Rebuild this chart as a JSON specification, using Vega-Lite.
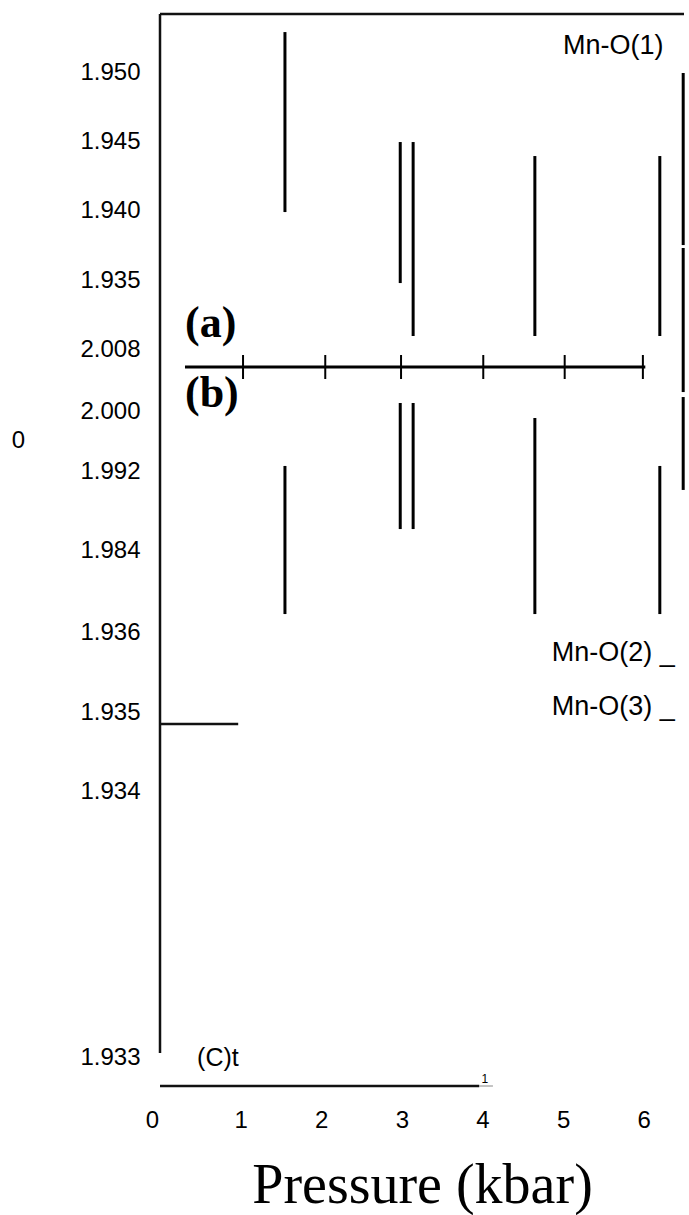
{
  "$schema": "https://vega.github.io/schema/vega-lite/v6.json",
  "width": 524,
  "height": 1072,
  "autosize": "none",
  "padding": {"left": 160, "top": 14, "right": 5, "bottom": 129},
  "background": "white",
  "config": {"view": {"stroke": null}, "axis": {"grid": false}},
  "data": {"values": [
    {"kind": "bar", "p1": 1.55, "p2": 1.55, "v1": 1.95288, "v2": 1.93990},
    {"kind": "bar", "p1": 2.98, "p2": 2.98, "v1": 1.94495, "v2": 1.93478},
    {"kind": "bar", "p1": 3.14, "p2": 3.14, "v1": 1.94495, "v2": 1.93096},
    {"kind": "bar", "p1": 4.65, "p2": 4.65, "v1": 1.94394, "v2": 1.93096},
    {"kind": "bar", "p1": 6.20, "p2": 6.20, "v1": 1.94394, "v2": 1.93096},
    {"kind": "bar", "p1": 6.49, "p2": 6.49, "v1": 1.94993, "v2": 1.93752},
    {"kind": "bar", "p1": 6.49, "p2": 6.49, "v1": 1.93731, "v2": 1.92692},
    {"kind": "bar", "p1": 6.49, "p2": 6.49, "v1": 1.92656, "v2": 1.91986},
    {"kind": "bar", "p1": 1.55, "p2": 1.55, "v1": 1.92159, "v2": 1.91091},
    {"kind": "bar", "p1": 2.98, "p2": 2.98, "v1": 1.92613, "v2": 1.91704},
    {"kind": "bar", "p1": 3.14, "p2": 3.14, "v1": 1.92613, "v2": 1.91704},
    {"kind": "bar", "p1": 4.65, "p2": 4.65, "v1": 1.92505, "v2": 1.91091},
    {"kind": "bar", "p1": 6.20, "p2": 6.20, "v1": 1.92159, "v2": 1.91091},
    {"kind": "line", "p1": 0.31, "p2": 6.02, "v1": 1.92873, "v2": 1.92873},
    {"kind": "tick", "p1": 1.03, "p2": 1.03, "v1": 1.92959, "v2": 1.92786},
    {"kind": "tick", "p1": 2.05, "p2": 2.05, "v1": 1.92959, "v2": 1.92786},
    {"kind": "tick", "p1": 2.99, "p2": 2.99, "v1": 1.92959, "v2": 1.92786},
    {"kind": "tick", "p1": 4.01, "p2": 4.01, "v1": 1.92959, "v2": 1.92786},
    {"kind": "tick", "p1": 5.02, "p2": 5.02, "v1": 1.92959, "v2": 1.92786},
    {"kind": "tick", "p1": 5.99, "p2": 5.99, "v1": 1.92959, "v2": 1.92786},
    {"kind": "frame", "p1": 0, "p2": 0, "v1": 1.954183, "v2": 1.87926},
    {"kind": "frame", "p1": 0, "p2": 6.5, "v1": 1.954183, "v2": 1.954183},
    {"kind": "frame", "p1": 0, "p2": 3.96, "v1": 1.876875, "v2": 1.876875},
    {"kind": "frame", "p1": 0, "p2": 0.97, "v1": 1.90298, "v2": 1.90298},
    {"kind": "thin", "p1": 3.96, "p2": 4.13, "v1": 1.876875, "v2": 1.876875},
    {"kind": "mno", "label": "Mn-O(1)", "p1": 5.0, "v1": 1.95188},
    {"kind": "mno", "label": "Mn-O(2) _", "p1": 4.86, "v1": 1.90810},
    {"kind": "mno", "label": "Mn-O(3) _", "p1": 4.86, "v1": 1.90421},
    {"kind": "sans", "label": "(C)t", "p1": 0.46, "v1": 1.87889},
    {"kind": "small", "label": "1", "p1": 4.03, "v1": 1.87738},
    {"kind": "serif", "label": "(a)", "p1": 0.31, "v1": 1.93183},
    {"kind": "serif", "label": "(b)", "p1": 0.31, "v1": 1.92678}
  ]},
  "encoding": {
    "x": {
      "field": "p1", "type": "quantitative",
      "scale": {"domain": [0, 6.5], "nice": false, "zero": false},
      "axis": {
        "values": [0, 1, 2, 3, 4, 5, 6],
        "domain": false, "ticks": false, "tickSize": 0,
        "labelFont": "Liberation Sans", "labelFontSize": 24, "labelColor": "#000",
        "labelPadding": 22, "labelFlush": false,
        "labelOffset": {"condition": {"test": "datum.value === 0", "value": -8}, "value": 0},
        "title": "Pressure (kbar)",
        "titleFont": "Liberation Serif", "titleFontSize": 56, "titleFontWeight": "normal",
        "titleColor": "#000", "titleBaseline": "alphabetic", "titleY": 116
      }
    },
    "y": {
      "field": "v1", "type": "quantitative",
      "scale": {"domain": [1.876875, 1.954183], "nice": false, "zero": false},
      "axis": {
        "values": [1.95, 1.945, 1.94, 1.935, 1.93, 1.9255, 1.9212, 1.9155, 1.9096, 1.9038, 1.8981, 1.8789],
        "labelExpr": "['1.950','1.945','1.940','1.935','2.008','2.000','1.992','1.984','1.936','1.935','1.934','1.933'][indexof([1.95, 1.945, 1.94, 1.935, 1.93, 1.9255, 1.9212, 1.9155, 1.9096, 1.9038, 1.8981, 1.8789], datum.value)]",
        "domain": false, "ticks": false, "tickSize": 0,
        "labelFont": "Liberation Sans", "labelFontSize": 24, "labelColor": "#000",
        "labelPadding": 20, "labelFlush": false, "labelOverlap": false,
        "title": "0", "titleAngle": 0, "titleX": -142, "titleY": 426,
        "titleAlign": "center", "titleBaseline": "middle",
        "titleFont": "Liberation Sans", "titleFontSize": 24, "titleFontWeight": "normal", "titleColor": "#000"
      }
    }
  },
  "layer": [
    {"transform": [{"filter": "datum.kind == 'frame'"}], "mark": {"type": "rule", "strokeWidth": 2.5, "color": "#111"}, "encoding": {"x2": {"field": "p2"}, "y2": {"field": "v2"}}},
    {"transform": [{"filter": "datum.kind == 'thin'"}], "mark": {"type": "rule", "strokeWidth": 1, "color": "#888"}, "encoding": {"x2": {"field": "p2"}, "y2": {"field": "v2"}}},
    {"transform": [{"filter": "datum.kind == 'bar'"}], "mark": {"type": "rule", "strokeWidth": 3, "color": "#000"}, "encoding": {"x2": {"field": "p2"}, "y2": {"field": "v2"}}},
    {"transform": [{"filter": "datum.kind == 'line'"}], "mark": {"type": "rule", "strokeWidth": 3, "color": "#000"}, "encoding": {"x2": {"field": "p2"}, "y2": {"field": "v2"}}},
    {"transform": [{"filter": "datum.kind == 'tick'"}], "mark": {"type": "rule", "strokeWidth": 2, "color": "#000"}, "encoding": {"x2": {"field": "p2"}, "y2": {"field": "v2"}}},
    {"transform": [{"filter": "datum.kind == 'mno'"}], "mark": {"type": "text", "align": "left", "baseline": "middle", "font": "Liberation Sans", "fontSize": 27, "color": "#000"}, "encoding": {"text": {"field": "label"}}},
    {"transform": [{"filter": "datum.kind == 'sans'"}], "mark": {"type": "text", "align": "left", "baseline": "middle", "font": "Liberation Sans", "fontSize": 25, "color": "#000"}, "encoding": {"text": {"field": "label"}}},
    {"transform": [{"filter": "datum.kind == 'small'"}], "mark": {"type": "text", "align": "center", "baseline": "middle", "font": "Liberation Sans", "fontSize": 12, "color": "#000"}, "encoding": {"text": {"field": "label"}}},
    {"transform": [{"filter": "datum.kind == 'serif'"}], "mark": {"type": "text", "align": "left", "baseline": "middle", "font": "Liberation Serif", "fontSize": 44, "fontWeight": "bold", "color": "#000"}, "encoding": {"text": {"field": "label"}}}
  ]
}
